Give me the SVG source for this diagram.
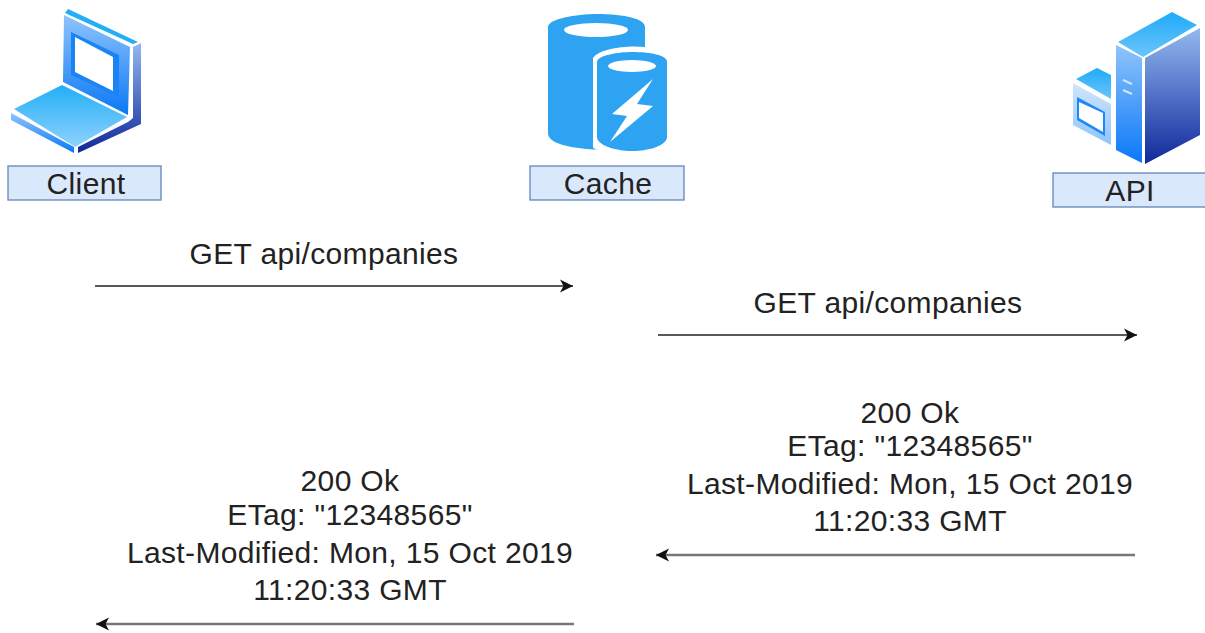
<svg xmlns="http://www.w3.org/2000/svg" width="1205" height="633" viewBox="0 0 1205 633">
<defs>
<linearGradient id="panel" x1="0" y1="0" x2="0" y2="1"><stop offset="0" stop-color="#8fc4fb"/><stop offset="1" stop-color="#0a78f5"/></linearGradient>
<linearGradient id="top" x1="0" y1="0" x2="0" y2="1"><stop offset="0" stop-color="#22aef8"/><stop offset="1" stop-color="#8fd2fb"/></linearGradient>
<linearGradient id="topr" x1="0" y1="0" x2="0" y2="1"><stop offset="0" stop-color="#1fabfa"/><stop offset="1" stop-color="#6cc4fa"/></linearGradient>
<linearGradient id="dark" x1="0" y1="0" x2="0" y2="1"><stop offset="0" stop-color="#93b9f0"/><stop offset="1" stop-color="#10289a"/></linearGradient>
<linearGradient id="front" x1="0" y1="0" x2="0" y2="1"><stop offset="0" stop-color="#8fc4fb"/><stop offset="1" stop-color="#0a78f8"/></linearGradient>
<linearGradient id="small" x1="0" y1="0" x2="0" y2="1"><stop offset="0" stop-color="#d0e6fd"/><stop offset="1" stop-color="#8fc4fb"/></linearGradient>
<marker id="arrow" markerUnits="userSpaceOnUse" markerWidth="15" markerHeight="16" refX="13" refY="8" orient="auto-start-reverse"><path d="M0,1.5 L13,8 L0,14.5 L3.5,8 Z" fill="#111"/></marker>
</defs>
<style>
text{font-family:"Liberation Sans",Arial,sans-serif;font-size:30px;letter-spacing:.35px;fill:#222;text-anchor:middle}
.lab{fill:#dae8fc;stroke:#6c8ebf;stroke-width:1.4}
.c{fill:none;stroke:#222;stroke-width:1.6;marker-end:url(#arrow)}
.r{stroke:#777;stroke-width:2.4}
.w{fill:#fff}
.b{fill:#2ea3f2}
</style>
<rect width="1205" height="633" fill="#fff"/>
<g id="client">
<polygon points="68,9 138,42 133,44 65,13" fill="#25aef8"/>
<polygon points="64,15 130,47 128,115 63,82" fill="url(#panel)"/>
<polygon points="71,32 119,55 119,97 71,75" fill="#1a84f5"/>
<polygon points="75,37 113,57 113,91 75,72" class="w"/>
<polygon points="133,47 141,43 141,124 78,153 78,147 128,122 133,118" fill="url(#dark)"/>
<polygon points="62,85 127,117 75,147 14,109" fill="url(#top)"/>
<polygon points="11,113 74,147 74,153 11,120" fill="url(#front)"/>
<rect x="8" y="166" width="153" height="34" class="lab"/>
<text x="86" y="194">Client</text>
</g>
<g id="cache">
<path d="M548,27 C548,19 576,14 597,14 C625,14 645,19 645,27 L645,47 C625,45 599,49 593,58 L593,147 C593,149 598,150 600,150 C570,148 548,144 548,133 Z" class="b"/>
<ellipse cx="596" cy="30" rx="32" ry="7" class="w"/>
<path d="M597,62 C597,55 620,52 632,52 C650,52 667,55 667,62 L667,137 C667,145 650,151 632,151 C615,151 597,145 597,137 Z" class="b"/>
<ellipse cx="632" cy="66" rx="24" ry="6" class="w"/>
<polygon points="653,79 612,114 627,116 610,142 653,106 637,104" class="w"/>
<rect x="530" y="166" width="154" height="34" class="lab"/>
<text x="608" y="194">Cache</text>
</g>
<g id="api">
<polygon points="1172,12 1197,25 1143,57 1118,42" fill="url(#topr)"/>
<polygon points="1116,45 1142,58 1142,163 1116,150" fill="url(#front)"/>
<polygon points="1145,58 1200,28 1200,135 1145,164" fill="url(#dark)"/>
<path d="M1123,80 L1132,84 M1123,90 L1132,94" stroke="#cfe6fd" stroke-width="2" fill="none"/>
<polygon points="1097,68 1111,75 1111,99 1076,79" fill="url(#topr)"/>
<polygon points="1073,83 1111,104 1111,145 1073,125" fill="url(#small)"/>
<polygon points="1077,97 1105,112 1105,136 1077,120" fill="#1f8af5"/>
<polygon points="1079,102 1103,113 1103,132 1079,118" class="w"/>
<rect x="1053" y="173" width="160" height="34" class="lab"/>
<text x="1130" y="201">API</text>
</g>
<g id="connectors">
<path d="M95,286 H573" class="c"/>
<path d="M658,335 H1137" class="c"/>
<path d="M1135,555 H656" class="c r"/>
<path d="M574,624 H96" class="c r"/>
</g>
<g id="labels">
<text x="324" y="264">GET api/companies</text>
<text x="888" y="313">GET api/companies</text>
<text x="910" y="423">200 Ok</text>
<text x="910" y="456">ETag: "12348565"</text>
<text x="910" y="494">Last-Modified: Mon, 15 Oct 2019</text>
<text x="910" y="531">11:20:33 GMT</text>
<text x="350" y="491">200 Ok</text>
<text x="350" y="525">ETag: "12348565"</text>
<text x="350" y="563">Last-Modified: Mon, 15 Oct 2019</text>
<text x="350" y="600">11:20:33 GMT</text>
</g>
</svg>
